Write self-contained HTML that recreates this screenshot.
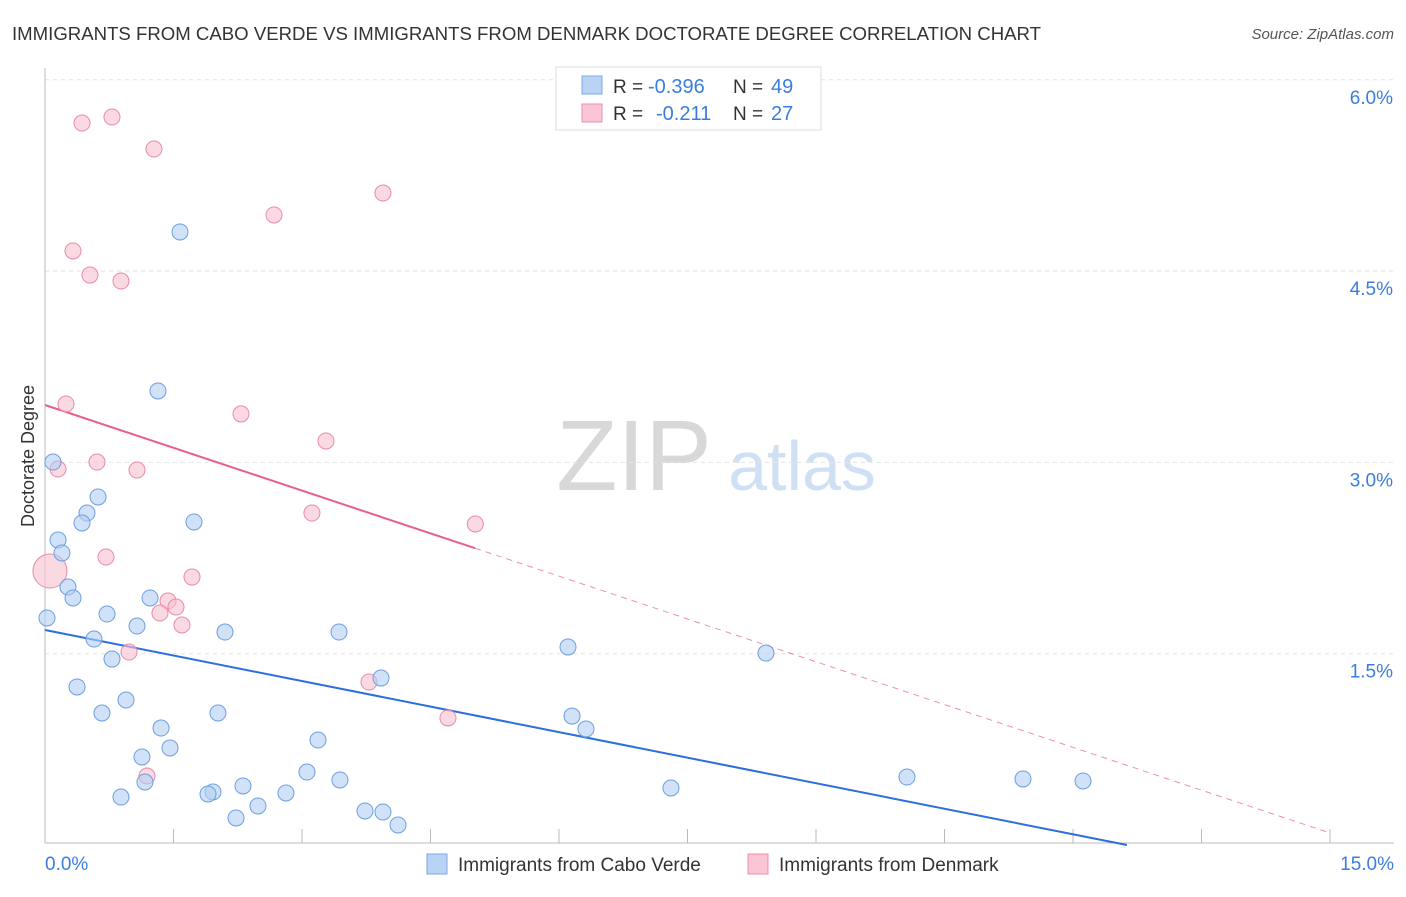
<!DOCTYPE html>
<html><head><meta charset="utf-8"><style>
body{margin:0;background:#fff;font-family:"Liberation Sans",sans-serif;}
svg text{font-family:"Liberation Sans",sans-serif;}
</style></head><body>
<svg id="chart" width="1406" height="892">
<text x="12" y="40" font-size="18" fill="#333" textLength="1029" lengthAdjust="spacingAndGlyphs">IMMIGRANTS FROM CABO VERDE VS IMMIGRANTS FROM DENMARK DOCTORATE DEGREE CORRELATION CHART</text>
<text x="1394" y="39" font-size="15" fill="#555" font-style="italic" text-anchor="end">Source: ZipAtlas.com</text>
<g>
<text x="634" y="490" font-size="100" fill="#d8d8d8" font-family="Liberation Serif, serif" text-anchor="middle">ZIP</text>
<text x="802" y="490" font-size="70" fill="#cfe0f5" text-anchor="middle">atlas</text>
</g>
<g id="grid"></g>
<g id="axes"></g>
<g id="trend"></g>
<g id="points"></g>
<text transform="translate(34,456) rotate(-90)" font-size="18" fill="#333" text-anchor="middle">Doctorate Degree</text>
<g>
<rect x="556" y="67" width="265" height="63" fill="#fff" stroke="#ddd"/>
<rect x="582" y="76" width="20" height="18" fill="#b9d3f5" stroke="#7aa7e3"/>
<rect x="582" y="104" width="20" height="18" fill="#fac6d5" stroke="#ec8fab"/>
<text x="613" y="93" font-size="19" fill="#333">R =</text>
<text x="648" y="93" font-size="20" fill="#3b7ddd">-0.396</text>
<text x="733" y="93" font-size="19" fill="#333">N =</text>
<text x="771" y="93" font-size="20" fill="#3b7ddd">49</text>
<text x="613" y="120" font-size="19" fill="#333">R =</text>
<text x="656" y="120" font-size="20" fill="#3b7ddd">-0.211</text>
<text x="733" y="120" font-size="19" fill="#333">N =</text>
<text x="771" y="120" font-size="20" fill="#3b7ddd">27</text>
</g>
<g>
<rect x="427" y="854" width="20" height="20" fill="#b9d3f5" stroke="#7aa7e3"/>
<text x="458" y="871" font-size="19" fill="#333">Immigrants from Cabo Verde</text>
<rect x="748" y="854" width="20" height="20" fill="#fac6d5" stroke="#ec8fab"/>
<text x="779" y="871" font-size="19" fill="#333">Immigrants from Denmark</text>
</g>
</svg>
<script>
const yTicks=[1.5,3.0,4.5,6.0];
const yTickLabels=["1.5%","3.0%","4.5%","6.0%"];
const xEdgeLabels=["0.0%","15.0%"];
const blueX=[1.576,1.319,0.093,0.619,0.490,0.432,1.739,0.152,0.198,0.268,0.327,1.226,0.023,0.724,1.074,2.101,3.432,0.572,6.105,8.416,0.782,3.922,0.374,0.946,0.665,2.019,6.152,1.354,6.315,3.187,1.459,1.132,3.058,10.062,11.416,12.117,3.443,1.167,2.311,7.307,1.961,1.903,2.813,0.887,2.486,3.735,3.945,2.230,4.121];
const blueY=[4.807,3.560,3.003,2.729,2.603,2.525,2.533,2.392,2.290,2.023,1.937,1.937,1.780,1.811,1.717,1.670,1.670,1.615,1.553,1.505,1.458,1.309,1.239,1.137,1.035,1.035,1.011,0.917,0.910,0.823,0.761,0.690,0.572,0.533,0.518,0.502,0.510,0.494,0.463,0.447,0.416,0.400,0.408,0.376,0.306,0.267,0.259,0.212,0.157];
const pinkX=[0.782,0.432,1.272,3.945,2.673,0.327,0.525,0.887,0.245,2.288,3.280,0.607,0.152,1.074,3.116,5.023,0.712,0.058,1.716,1.436,1.529,1.342,1.599,0.981,3.782,4.704,1.191];
const pinkY=[5.708,5.661,5.457,5.112,4.940,4.658,4.469,4.422,3.458,3.380,3.168,3.003,2.948,2.940,2.603,2.517,2.258,2.148,2.101,1.913,1.866,1.819,1.725,1.513,1.278,0.996,0.541];
const blueTrend=[1.686,-0.1335];
const pinkTrend=[3.450,-0.2237];
const pinkSolidEnd=5.02;
const NS="http://www.w3.org/2000/svg";
const X=v=>45+v*1285/15, Y=v=>845-v*191.3/1.5;
function mk(t,a,p){const e=document.createElementNS(NS,t);for(const k in a)e.setAttribute(k,a[k]);p.appendChild(e);return e;}
const grid=document.getElementById('grid'),axes=document.getElementById('axes');
yTicks.forEach((t,i)=>{
 const l=mk('line',{x1:45,x2:1394,y1:Y(t),y2:Y(t),stroke:'#e4e4e4','stroke-dasharray':'4,4'},grid);
 
 
 const tx=mk('text',{x:1393,y:Y(t)+24,'font-size':19,fill:'#3b7ddd','text-anchor':'end'},axes);
 tx.textContent=yTickLabels[i];
 
 
});
const ax=mk('line',{x1:45,x2:45,y1:68,y2:843,stroke:'#bbb'},axes);


const bx=mk('line',{x1:45,x2:1394,y1:843,y2:843,stroke:'#bbb'},axes);


for(let i=0;i<=10;i++){const tk=mk('line',{x1:X(i*1.5),x2:X(i*1.5),y1:829,y2:843,stroke:'#bbb'},axes);
 
 }
const l0=mk('text',{x:45,y:870,'font-size':19,fill:'#3b7ddd'},axes);l0.textContent=xEdgeLabels[0];


const l1=mk('text',{x:1394,y:870,'font-size':19,fill:'#3b7ddd','text-anchor':'end'},axes);l1.textContent=xEdgeLabels[1];


const tr=document.getElementById('trend');
const bEnd=-blueTrend[0]/blueTrend[1];
const bl=mk('line',{x1:X(0),y1:Y(blueTrend[0]),x2:X(bEnd),y2:Y(0),stroke:'#2a6fdb','stroke-width':2},tr);


const ps=mk('line',{x1:X(0),y1:Y(pinkTrend[0]),x2:X(pinkSolidEnd),y2:Y(pinkTrend[0]+pinkTrend[1]*pinkSolidEnd),stroke:'#e8608a','stroke-width':2},tr);


const pd=mk('line',{x1:X(pinkSolidEnd),y1:Y(pinkTrend[0]+pinkTrend[1]*pinkSolidEnd),x2:X(15),y2:Y(pinkTrend[0]+pinkTrend[1]*15),stroke:'#e8608a','stroke-width':1,'stroke-dasharray':'6,5',opacity:0.7},tr);


const pts=document.getElementById('points');
pinkX.forEach((x,i)=>{const c=mk('circle',{cx:X(x),cy:Y(pinkY[i]),r:i===17?17:8,fill:'#f9c0d1','fill-opacity':0.6,stroke:'#e98aa8','stroke-width':1},pts);
 
 });
blueX.forEach((x,i)=>{const c=mk('circle',{cx:X(x),cy:Y(blueY[i]),r:8,fill:'#b3cff3','fill-opacity':0.6,stroke:'#6b9fe0','stroke-width':1},pts);
 
 });
</script>
</body></html>
